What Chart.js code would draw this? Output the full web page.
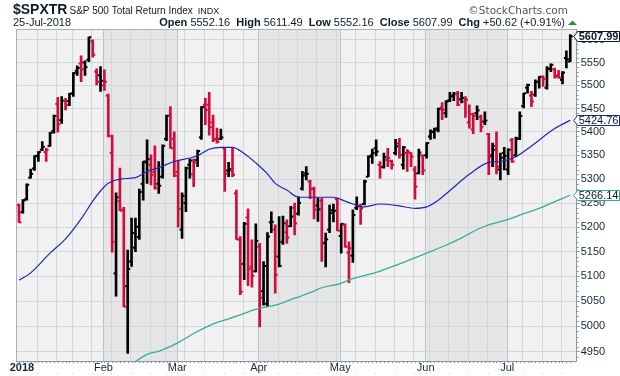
<!DOCTYPE html>
<html>
<head>
<meta charset="utf-8">
<script src="https://cdn.jsdelivr.net/npm/chart.js@4.4.1/dist/chart.umd.min.js"></script>
<style>
  html, body { margin: 0; padding: 0; background: #fff; }
  canvas { display: block; }
</style>
</head>
<body>
<canvas id="chartSpx" width="620" height="376"></canvas>
<script>
// $SPXTR daily bars, 29-Dec-2017 .. 25-Jul-2018
const symbol = '$SPXTR';
const indexName = 'S&P 500 Total Return Index';
const exchange = 'INDX';
const monthNames = ['Jan', 'Feb', 'Mar', 'Apr', 'May', 'Jun', 'Jul', 'Aug', 'Sep', 'Oct', 'Nov', 'Dec'];

const dates = ['2017-12-29',
  '2018-01-02', '2018-01-03', '2018-01-04', '2018-01-05', '2018-01-08', '2018-01-09', '2018-01-10', '2018-01-11', '2018-01-12', '2018-01-16',
  '2018-01-17', '2018-01-18', '2018-01-19', '2018-01-22', '2018-01-23', '2018-01-24', '2018-01-25', '2018-01-26', '2018-01-29', '2018-01-30', '2018-01-31',
  '2018-02-01', '2018-02-02', '2018-02-05', '2018-02-06', '2018-02-07', '2018-02-08', '2018-02-09', '2018-02-12', '2018-02-13', '2018-02-14',
  '2018-02-15', '2018-02-16', '2018-02-20', '2018-02-21', '2018-02-22', '2018-02-23', '2018-02-26', '2018-02-27', '2018-02-28',
  '2018-03-01', '2018-03-02', '2018-03-05', '2018-03-06', '2018-03-07', '2018-03-08', '2018-03-09', '2018-03-12', '2018-03-13', '2018-03-14',
  '2018-03-15', '2018-03-16', '2018-03-19', '2018-03-20', '2018-03-21', '2018-03-22', '2018-03-23', '2018-03-26', '2018-03-27', '2018-03-28', '2018-03-29',
  '2018-04-02', '2018-04-03', '2018-04-04', '2018-04-05', '2018-04-06', '2018-04-09', '2018-04-10', '2018-04-11', '2018-04-12', '2018-04-13',
  '2018-04-16', '2018-04-17', '2018-04-18', '2018-04-19', '2018-04-20', '2018-04-23', '2018-04-24', '2018-04-25', '2018-04-26', '2018-04-27', '2018-04-30',
  '2018-05-01', '2018-05-02', '2018-05-03', '2018-05-04', '2018-05-07', '2018-05-08', '2018-05-09', '2018-05-10', '2018-05-11', '2018-05-14',
  '2018-05-15', '2018-05-16', '2018-05-17', '2018-05-18', '2018-05-21', '2018-05-22', '2018-05-23', '2018-05-24', '2018-05-25', '2018-05-29', '2018-05-30', '2018-05-31',
  '2018-06-01', '2018-06-04', '2018-06-05', '2018-06-06', '2018-06-07', '2018-06-08', '2018-06-11', '2018-06-12', '2018-06-13', '2018-06-14',
  '2018-06-15', '2018-06-18', '2018-06-19', '2018-06-20', '2018-06-21', '2018-06-22', '2018-06-25', '2018-06-26', '2018-06-27', '2018-06-28', '2018-06-29',
  '2018-07-02', '2018-07-03', '2018-07-05', '2018-07-06', '2018-07-09', '2018-07-10', '2018-07-11', '2018-07-12', '2018-07-13', '2018-07-16',
  '2018-07-17', '2018-07-18', '2018-07-19', '2018-07-20', '2018-07-23', '2018-07-24', '2018-07-25'];

const openData = [5246, 5231, 5258, 5303, 5322, 5348, 5362, 5357, 5370, 5402,
  5460, 5425, 5466, 5466, 5483, 5532, 5548, 5550, 5556, 5597,
  5530, 5522, 5500, 5478, 5355, 5106, 5254, 5236, 5080, 5130,
  5158, 5180, 5290, 5335, 5330, 5315, 5290, 5305, 5385, 5435,
  5385, 5315, 5195, 5250, 5330, 5310, 5340, 5388, 5458, 5458,
  5420, 5385, 5385, 5365, 5318, 5318, 5270, 5175, 5125, 5220,
  5120, 5110, 5160, 5070, 5045, 5210, 5195, 5140, 5170, 5190,
  5202, 5240, 5228, 5280, 5312, 5295, 5280, 5245, 5255, 5168,
  5195, 5235, 5258, 5182, 5205, 5148, 5142, 5240, 5243, 5248,
  5305, 5350, 5365, 5330, 5325, 5340, 5338, 5355, 5375, 5330,
  5355, 5355, 5320, 5312, 5350, 5350, 5390, 5400, 5408, 5452,
  5440, 5468, 5478, 5482, 5470, 5465, 5420, 5405, 5440, 5432,
  5422, 5395, 5350, 5370, 5320, 5355, 5320, 5382, 5350, 5385,
  5455, 5495, 5478, 5480, 5508, 5518, 5495, 5537, 5535, 5522,
  5512, 5560, 5552.16];
const highData = [5248, 5257, 5290, 5321, 5349, 5358, 5379, 5365, 5399, 5436,
  5474, 5476, 5472, 5483, 5528, 5543, 5565, 5554, 5606, 5600,
  5536, 5541, 5534, 5481, 5393, 5271, 5323, 5241, 5153, 5219,
  5219, 5279, 5337, 5383, 5351, 5370, 5337, 5372, 5436, 5454,
  5400, 5339, 5271, 5325, 5342, 5342, 5361, 5454, 5472, 5485,
  5436, 5408, 5406, 5367, 5335, 5365, 5277, 5181, 5210, 5238,
  5174, 5207, 5167, 5130, 5189, 5232, 5205, 5222, 5223, 5215,
  5243, 5250, 5263, 5316, 5326, 5298, 5283, 5261, 5260, 5188,
  5246, 5248, 5260, 5207, 5207, 5170, 5236, 5263, 5248, 5298,
  5349, 5363, 5383, 5337, 5355, 5365, 5340, 5384, 5386, 5369,
  5362, 5356, 5326, 5363, 5351, 5377, 5404, 5408, 5451, 5463,
  5467, 5485, 5485, 5487, 5485, 5476, 5458, 5440, 5456, 5436,
  5443, 5397, 5376, 5400, 5355, 5367, 5364, 5386, 5389, 5443,
  5483, 5503, 5487, 5512, 5519, 5521, 5541, 5547, 5538, 5533,
  5530, 5576, 5611.49];
const lowData = [5210, 5229, 5256, 5302, 5318, 5337, 5360, 5337, 5369, 5397,
  5399, 5418, 5447, 5456, 5476, 5522, 5508, 5522, 5552, 5562,
  5501, 5487, 5489, 5389, 5149, 5060, 5234, 5039, 4947, 5120,
  5150, 5175, 5256, 5291, 5288, 5279, 5270, 5302, 5381, 5365,
  5305, 5200, 5177, 5232, 5302, 5284, 5326, 5384, 5415, 5393,
  5379, 5376, 5383, 5274, 5305, 5305, 5175, 5063, 5093, 5081,
  5078, 5109, 4999, 5042, 5039, 5189, 5066, 5119, 5165, 5167,
  5201, 5184, 5225, 5277, 5298, 5259, 5217, 5212, 5130, 5119,
  5189, 5211, 5193, 5147, 5159, 5087, 5128, 5236, 5206, 5246,
  5305, 5333, 5349, 5302, 5323, 5326, 5321, 5351, 5344, 5321,
  5316, 5326, 5258, 5311, 5309, 5344, 5384, 5386, 5400, 5426,
  5431, 5465, 5467, 5456, 5462, 5431, 5408, 5396, 5426, 5400,
  5415, 5309, 5326, 5311, 5298, 5319, 5309, 5335, 5347, 5383,
  5451, 5483, 5454, 5476, 5494, 5498, 5492, 5530, 5516, 5516,
  5503, 5538, 5552.16];
const closeData = [5210, 5255, 5288, 5311, 5349, 5357, 5368, 5362, 5398, 5434,
  5416, 5467, 5458, 5482, 5527, 5538, 5535, 5540, 5606, 5567,
  5508, 5510, 5508, 5391, 5170, 5262, 5234, 5039, 5115, 5188,
  5201, 5273, 5337, 5342, 5309, 5281, 5286, 5370, 5434, 5365,
  5307, 5238, 5265, 5323, 5339, 5335, 5359, 5453, 5447, 5410,
  5383, 5379, 5388, 5311, 5321, 5309, 5175, 5069, 5207, 5115,
  5101, 5172, 5057, 5121, 5181, 5211, 5103, 5121, 5208, 5179,
  5222, 5208, 5250, 5307, 5311, 5279, 5236, 5237, 5167, 5175,
  5229, 5234, 5193, 5207, 5160, 5157, 5225, 5244, 5239, 5295,
  5347, 5355, 5358, 5326, 5346, 5344, 5330, 5369, 5351, 5367,
  5358, 5347, 5284, 5356, 5318, 5376, 5400, 5404, 5449, 5447,
  5465, 5476, 5482, 5458, 5473, 5469, 5438, 5434, 5446, 5411,
  5424, 5347, 5362, 5326, 5345, 5349, 5362, 5337, 5386, 5434,
  5483, 5501, 5465, 5508, 5519, 5514, 5536, 5545, 5519, 5517,
  5528, 5557.37, 5607.99];

// moving averages, read at the bar index given alongside
const ma50Idx = [0, 3, 8, 12, 16, 19, 21, 23, 26, 30, 33, 36, 40, 46, 49, 52, 55, 58, 61, 64, 66, 69, 72,
  75, 78, 81, 84, 86, 89, 93, 98, 102, 105, 108, 111, 114, 116, 121, 124, 128, 132, 138, 142];
const ma50Data = [5092, 5107, 5147, 5176, 5217, 5254, 5275, 5291, 5300, 5303, 5316, 5324, 5337, 5349, 5363, 5367, 5367, 5354, 5334, 5311, 5291, 5277, 5262,
  5262, 5262, 5262, 5254, 5248, 5242, 5248, 5244, 5239, 5242, 5256, 5276, 5297, 5310, 5335, 5337, 5347, 5370, 5407, 5424.76];
const ma200Idx = [30, 33, 36, 38, 41, 45, 50, 54, 58, 62, 66, 71, 75, 78, 83, 85, 92, 98, 105, 110, 114, 116, 120, 126, 130, 135, 138, 142];
const ma200Data = [4931, 4945, 4951, 4957, 4968, 4986, 5005, 5015, 5026, 5036, 5042, 5056, 5067, 5077, 5086, 5093, 5108, 5125, 5147, 5163, 5178, 5187, 5202, 5216, 5228, 5242, 5253, 5266.14];

const yTicks = [4950, 5000, 5050, 5100, 5150, 5200, 5250, 5300, 5350, 5400, 5450, 5500, 5550, 5600];

const FONT = "'Liberation Sans', Arial, Helvetica, sans-serif";
const UP = '#000000';
const DOWN = '#d40c3c';
const last = closeData.length - 1;

// red when the close is below the previous close
const barColors = closeData.map((c, i) => (i === 0 ? c < openData[0] : c < closeData[i - 1]) ? DOWN : UP);

// weekly / monthly grid lines from the trading dates
const dayNum = dates.map(d => Date.UTC(+d.slice(0, 4), +d.slice(5, 7) - 1, +d.slice(8, 10)) / 864e5);
const weekday = n => (n + 4) % 7;
const GRID_SHIFT = 0.25;
const xTicks = [];
for (let i = 1; i < dates.length; i++) {
  const newYear = dates[i].slice(0, 4) !== dates[i - 1].slice(0, 4);
  const newMonth = dates[i].slice(5, 7) !== dates[i - 1].slice(5, 7);
  const newWeek = weekday(dayNum[i]) < weekday(dayNum[i - 1]) || dayNum[i] - dayNum[i - 1] >= 7;
  if (newYear) xTicks.push({ value: i - GRID_SHIFT, label: dates[i].slice(0, 4), kind: 'year' });
  else if (newMonth) xTicks.push({ value: i - GRID_SHIFT, label: monthNames[+dates[i].slice(5, 7) - 1], kind: 'month' });
  else if (newWeek) xTicks.push({ value: i - GRID_SHIFT, label: '', kind: 'week' });
}

function drawHeader(ctx) {
  ctx.save();
  ctx.textBaseline = 'alphabetic';
  ctx.fillStyle = '#0e1a2b';
  ctx.font = 'bold 14px ' + FONT;
  ctx.fillText(symbol, 13, 13.5);
  let hx = 13 + ctx.measureText(symbol).width + 2;
  ctx.font = '10px ' + FONT;
  ctx.fillText(indexName, hx, 13.5);
  hx += ctx.measureText(indexName).width + 5;
  ctx.font = '9px ' + FONT;
  ctx.fillText(exchange, hx, 13.5);

  ctx.fillStyle = '#555555';
  ctx.font = "10.5px 'DejaVu Sans', sans-serif";
  ctx.textAlign = 'right';
  ctx.fillText('\u00A9StockCharts.com', 568, 14);
  ctx.textAlign = 'left';

  const d = dates[last];
  ctx.fillStyle = '#0e1a2b';
  ctx.font = '11px ' + FONT;
  ctx.fillText(d.slice(8, 10) + '-' + monthNames[+d.slice(5, 7) - 1] + '-' + d.slice(0, 4), 13, 26);

  const chg = closeData[last] - closeData[last - 1];
  const pct = chg / closeData[last - 1] * 100;
  const parts = [
    ['Open', true], [' ' + openData[last].toFixed(2) + '  ', false],
    ['High', true], [' ' + highData[last].toFixed(2) + '  ', false],
    ['Low', true], [' ' + lowData[last].toFixed(2) + '  ', false],
    ['Close', true], [' ' + closeData[last].toFixed(2) + '  ', false],
    ['Chg', true], [' ' + (chg >= 0 ? '+' : '') + chg.toFixed(2) + ' (' + (pct >= 0 ? '+' : '') + pct.toFixed(2) + '%)', false]
  ];
  let total = 0;
  parts.forEach(p => { ctx.font = (p[1] ? 'bold ' : '') + '11px ' + FONT; total += ctx.measureText(p[0]).width; });
  let px = 565 - total;
  parts.forEach(p => {
    ctx.font = (p[1] ? 'bold ' : '') + '11px ' + FONT;
    ctx.fillText(p[0], px, 26);
    px += ctx.measureText(p[0]).width;
  });
  ctx.fillStyle = chg >= 0 ? '#1f9a2e' : DOWN;
  ctx.beginPath();
  ctx.moveTo(568, 25);
  ctx.lineTo(577, 25);
  ctx.lineTo(572.5, 20.5);
  ctx.closePath();
  ctx.fill();
  ctx.restore();
}

const decor = {
  id: 'decor',
  beforeDraw(chart) {
    const { ctx, chartArea: a, scales: { x } } = chart;
    ctx.save();
    ctx.fillStyle = '#ffffff';
    ctx.fillRect(0, 0, chart.width, chart.height);
    const edges = [x.min, ...xTicks.filter(t => t.kind === 'month').map(t => t.value), x.max];
    for (let k = 0; k < edges.length - 1; k++) {
      const x0 = x.getPixelForValue(edges[k]);
      const x1 = x.getPixelForValue(edges[k + 1]);
      ctx.fillStyle = k % 2 ? '#e6e6e6' : '#f1f1f1';
      ctx.fillRect(x0, a.top, x1 - x0, a.bottom - a.top);
    }
    ctx.restore();
  },
  afterDatasetDraw(chart, args) {
    if (args.index !== 2) return;
    const { ctx, scales: { y } } = chart;
    ctx.save();
    args.meta.data.forEach((bar, i) => {
      ctx.fillStyle = barColors[i];
      ctx.fillRect(bar.x - 2.5, y.getPixelForValue(openData[i]) - 1, 2.5, 2);
      ctx.fillRect(bar.x, y.getPixelForValue(closeData[i]) - 1, 2.5, 2);
    });
    ctx.restore();
  },
  afterDraw(chart) {
    const { ctx, chartArea: a, scales: { x, y } } = chart;
    ctx.save();
    // frame, left and top
    ctx.fillStyle = '#a9b0bb';
    ctx.fillRect(Math.floor(a.left), a.top, 1, a.bottom - a.top);
    ctx.fillRect(a.left, Math.floor(a.top), a.right - a.left, 1);
    // small marks under the date axis and next to the price axis
    ctx.fillStyle = '#8d96a5';
    dates.forEach((d, i) => ctx.fillRect(Math.round(x.getPixelForValue(i)), a.bottom, 1, 2));
    for (let v = 4940; v <= 5620; v += 10) {
      if (v % 50) ctx.fillRect(a.right, Math.round(y.getPixelForValue(v)), 2, 1);
    }
    ctx.fillStyle = '#c3c7cd';
    xTicks.forEach(t => { if (t.kind !== 'year') ctx.fillRect(Math.round(x.getPixelForValue(t.value)), 373, 1, 1); });

    // last-value flags on the right
    const flags = [
      [ma200Data[ma200Data.length - 1], '#36a898', false],
      [ma50Data[ma50Data.length - 1], '#2424b4', false],
      [closeData[last], '#101820', true]
    ];
    flags.forEach(([v, color, bold]) => {
      const yc = Math.round(y.getPixelForValue(v)) + 0.5;
      ctx.beginPath();
      ctx.moveTo(a.right - 3, yc);
      ctx.lineTo(a.right + 1, yc - 5);
      ctx.lineTo(619.5, yc - 5);
      ctx.lineTo(619.5, yc + 5);
      ctx.lineTo(a.right + 1, yc + 5);
      ctx.closePath();
      ctx.fillStyle = '#ffffff';
      ctx.fill();
      ctx.strokeStyle = color;
      ctx.lineWidth = 1;
      ctx.stroke();
      ctx.fillStyle = '#0e1a2b';
      ctx.font = (bold ? 'bold ' : '') + '11px ' + FONT;
      ctx.textBaseline = 'middle';
      ctx.fillText(v.toFixed(2), a.right + 2, yc + 0.5);
    });
    ctx.restore();
    drawHeader(ctx);
  }
};

const ctxSpx = document.getElementById('chartSpx').getContext('2d');
const chartSpx = new Chart(ctxSpx, {
  type: 'bar',
  data: {
    datasets: [
      {
        type: 'line',
        data: ma50Idx.map((v, k) => ({ x: v, y: ma50Data[k] })),
        borderColor: '#2424b4',
        borderWidth: 1.2,
        pointRadius: 0,
        cubicInterpolationMode: 'monotone'
      },
      {
        type: 'line',
        data: ma200Idx.map((v, k) => ({ x: v, y: ma200Data[k] })),
        borderColor: '#3aab9b',
        borderWidth: 1.3,
        pointRadius: 0,
        cubicInterpolationMode: 'monotone'
      },
      {
        type: 'bar',
        data: lowData.map((lo, i) => ({ x: i, y: [lo, highData[i]] })),
        backgroundColor: barColors,
        borderWidth: 0,
        barThickness: 2,
        grouped: false
      }
    ]
  },
  options: {
    responsive: false,
    animation: false,
    devicePixelRatio: 1,
    layout: { padding: { left: 16, top: 29.5, right: 0, bottom: 0 } },
    plugins: { legend: { display: false }, tooltip: { enabled: false } },
    scales: {
      x: {
        type: 'linear',
        min: -0.77,
        max: 143.66,
        offset: false,
        afterBuildTicks: s => { s.ticks = xTicks.map(t => ({ value: t.value })); },
        afterFit: s => { s.height = 15; },
        ticks: {
          autoSkip: false,
          maxRotation: 0,
          padding: 0,
          color: '#16263a',
          callback: (v, i) => (xTicks[i] ? xTicks[i].label : ''),
          font: c => ({ family: FONT, size: 11, weight: xTicks[c.index] && xTicks[c.index].kind === 'year' ? 'bold' : 'normal' })
        },
        grid: {
          offset: false,
          drawTicks: false,
          color: c => {
            const t = xTicks[c.index];
            if (!t || t.kind === 'year') return 'rgba(0,0,0,0)';
            return t.kind === 'month' ? '#b9c2cf' : '#d2d6dd';
          }
        },
        border: { color: '#8d96a5' }
      },
      y: {
        type: 'logarithmic',
        position: 'right',
        min: 4932,
        max: 5623,
        afterBuildTicks: s => { s.ticks = yTicks.map(v => ({ value: v })); },
        afterFit: s => { s.width = 43.3; },
        ticks: {
          autoSkip: false,
          padding: 1,
          color: '#16263a',
          font: { family: FONT, size: 11 },
          callback: v => String(v)
        },
        grid: { color: '#d2d6dd', tickLength: 3, tickColor: '#8d96a5' },
        border: { color: '#8d96a5' }
      }
    }
  },
  plugins: [decor]
});
</script>
</body>
</html>
